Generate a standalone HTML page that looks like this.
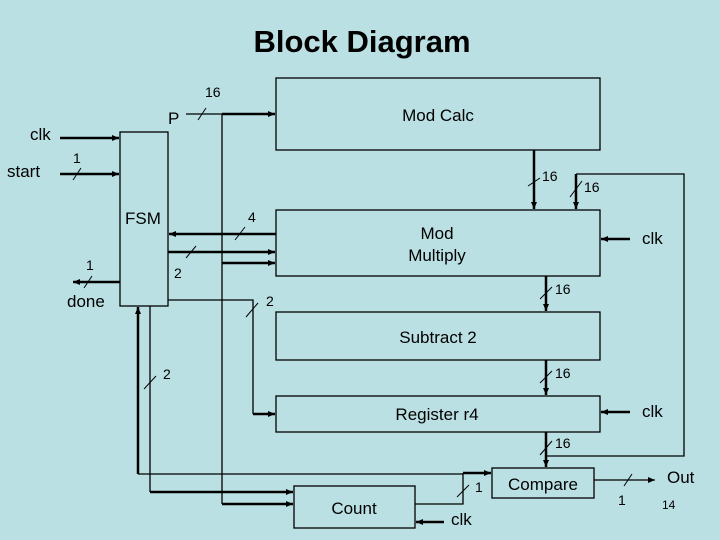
<!DOCTYPE html>
<html><head><meta charset="utf-8"><style>
html,body{margin:0;padding:0;background:#bbe0e3;}
svg{display:block;}
text{font-family:"Liberation Sans",sans-serif;fill:#000;}
.l{font-size:17px;}
.n{font-size:14px;}
</style></head><body>
<svg width="720" height="540" viewBox="0 0 720 540" xmlns="http://www.w3.org/2000/svg">
<defs>
<marker id="a" markerWidth="8" markerHeight="8" refX="7" refY="4" orient="auto" markerUnits="userSpaceOnUse">
<path d="M0,1 L7,4 L0,7 Z" fill="#000"/></marker>
</defs>
<rect width="720" height="540" fill="#bbe0e3"/>
<text x="362" y="52" text-anchor="middle" font-weight="bold" style="font-size:31px">Block Diagram</text>

<g fill="none" stroke="#000" stroke-width="1.3">
<rect x="120" y="132" width="48" height="174"/>
<rect x="276" y="78" width="324" height="72"/>
<rect x="276" y="210" width="324" height="66"/>
<rect x="276" y="312" width="324" height="48"/>
<rect x="276" y="396" width="324" height="36"/>
<rect x="492" y="468" width="102" height="30"/>
<rect x="294" y="486" width="121" height="42"/>
</g>

<g fill="none" stroke="#000">
<g stroke-width="2.5">
<line x1="60" y1="138" x2="119" y2="138" marker-end="url(#a)"/>
<line x1="60" y1="174" x2="119" y2="174" marker-end="url(#a)"/>
<line x1="120" y1="282" x2="73" y2="282" marker-end="url(#a)"/>
<line x1="222" y1="114" x2="275" y2="114" marker-end="url(#a)"/>
<line x1="276" y1="234" x2="169" y2="234" marker-end="url(#a)"/>
<line x1="168" y1="252" x2="275" y2="252" marker-end="url(#a)"/>
<line x1="222" y1="263" x2="275" y2="263" marker-end="url(#a)"/>
<line x1="253" y1="414" x2="275" y2="414" marker-end="url(#a)"/>
<line x1="534" y1="150" x2="534" y2="209" marker-end="url(#a)"/>
<line x1="576" y1="174" x2="576" y2="209" marker-end="url(#a)"/>
<line x1="546" y1="276" x2="546" y2="311" marker-end="url(#a)"/>
<line x1="546" y1="360" x2="546" y2="395" marker-end="url(#a)"/>
<line x1="546" y1="432" x2="546" y2="467" marker-end="url(#a)"/>
<line x1="630" y1="239" x2="601" y2="239" marker-end="url(#a)"/>
<line x1="630" y1="412" x2="601" y2="412" marker-end="url(#a)"/>
<line x1="444" y1="522" x2="416" y2="522" marker-end="url(#a)"/>
<line x1="138" y1="474" x2="138" y2="307" marker-end="url(#a)"/>
<line x1="150" y1="492" x2="293" y2="492" marker-end="url(#a)"/>
<line x1="222" y1="504" x2="293" y2="504" marker-end="url(#a)"/>
<line x1="463" y1="473" x2="491" y2="473" marker-end="url(#a)"/>
</g>
<g stroke-width="1.3">
<line x1="186" y1="114" x2="222" y2="114"/>
<line x1="222" y1="114" x2="222" y2="504"/>
<polyline points="168,300 253,300 253,414"/>
<line x1="150" y1="306" x2="150" y2="492"/>
<line x1="138" y1="474" x2="463" y2="474"/>
<polyline points="415,504 463,504 463,473"/>
<polyline points="576,174 684,174 684,456 546,456"/>
<line x1="594" y1="480" x2="655" y2="480" marker-end="url(#a)"/>
</g>
<g stroke-width="1">
<line x1="198" y1="120" x2="206" y2="108"/>
<line x1="73" y1="180" x2="81" y2="168"/>
<line x1="84" y1="288" x2="92" y2="276"/>
<line x1="235" y1="240" x2="245" y2="227"/>
<line x1="186" y1="258" x2="196" y2="246"/>
<line x1="246" y1="317" x2="258" y2="303"/>
<line x1="144" y1="389" x2="156" y2="376"/>
<line x1="528" y1="186" x2="540" y2="178"/>
<line x1="570" y1="197" x2="582" y2="181"/>
<line x1="540" y1="299" x2="552" y2="287"/>
<line x1="540" y1="383" x2="552" y2="371"/>
<line x1="540" y1="455" x2="552" y2="441"/>
<line x1="457" y1="497" x2="469" y2="485"/>
<line x1="624" y1="486" x2="632" y2="474"/>
</g>
</g>

<g>
<text x="30" y="140" class="l">clk</text>
<text x="7" y="177" class="l">start</text>
<text x="67" y="307" class="l">done</text>
<text x="125" y="224" class="l">FSM</text>
<text x="168" y="124" class="l">P</text>
<text x="438" y="121" class="l" text-anchor="middle">Mod Calc</text>
<text x="437" y="239" class="l" text-anchor="middle">Mod</text>
<text x="437" y="261" class="l" text-anchor="middle">Multiply</text>
<text x="438" y="343" class="l" text-anchor="middle">Subtract 2</text>
<text x="437" y="420" class="l" text-anchor="middle">Register r4</text>
<text x="543" y="490" class="l" text-anchor="middle">Compare</text>
<text x="354" y="514" class="l" text-anchor="middle">Count</text>
<text x="642" y="244" class="l">clk</text>
<text x="642" y="417" class="l">clk</text>
<text x="451" y="525" class="l">clk</text>
<text x="667" y="483" class="l">Out</text>
</g>
<g>
<text x="205" y="97" class="n">16</text>
<text x="73" y="163" class="n">1</text>
<text x="86" y="270" class="n">1</text>
<text x="248" y="222" class="n">4</text>
<text x="174" y="278" class="n">2</text>
<text x="266" y="306" class="n">2</text>
<text x="163" y="379" class="n">2</text>
<text x="542" y="181" class="n">16</text>
<text x="584" y="192" class="n">16</text>
<text x="555" y="294" class="n">16</text>
<text x="555" y="378" class="n">16</text>
<text x="555" y="448" class="n">16</text>
<text x="475" y="492" class="n">1</text>
<text x="618" y="505" class="n">1</text>
<text x="662" y="509" style="font-size:12px">14</text>
</g>
</svg>
</body></html>
